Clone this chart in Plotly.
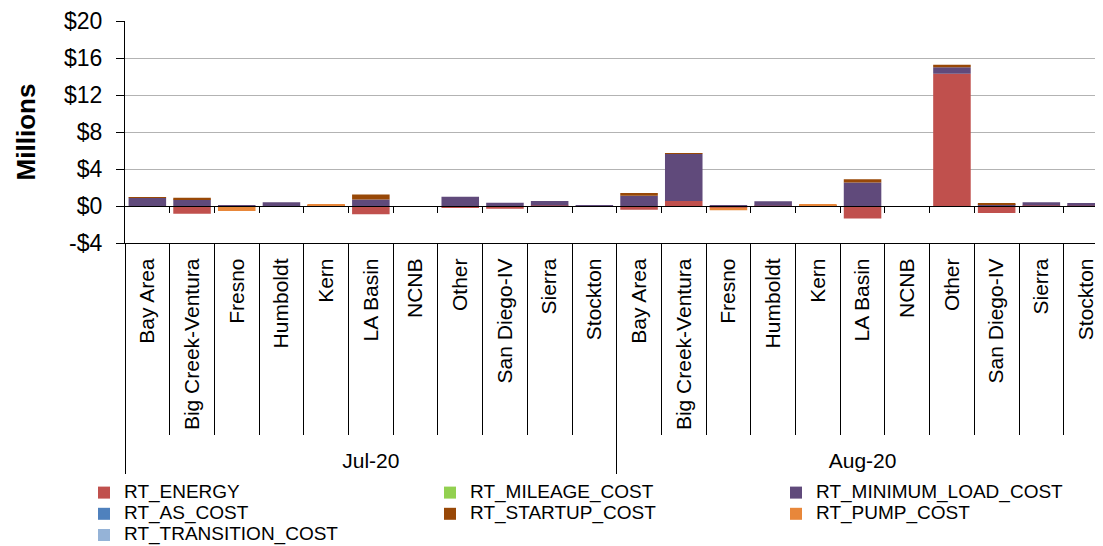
import plotly.graph_objects as go
import numpy as np

months = ["Jul-20", "Aug-20"]
regions = ["Bay Area", "Big Creek-Ventura", "Fresno", "Humboldt", "Kern", "LA Basin",
           "NCNB", "Other", "San Diego-IV", "Sierra", "Stockton"]

# values in $ millions, Jul-20 regions followed by Aug-20 regions
rt_energy = [-0.05, -0.85, -0.05, 0.0, 0.0, -0.9, 0.0, -0.15, -0.3, 0.05, 0.0,
             -0.4, 0.55, -0.2, 0.02, 0.0, -1.35, 0.0, 14.3, -0.75, 0.05, 0.02]
rt_mileage_cost = [0.0] * 22
rt_minimum_load_cost = [0.9, 0.7, 0.08, 0.4, 0.0, 0.7, 0.0, 1.0, 0.35, 0.5, 0.05,
                        1.1, 5.1, 0.05, 0.5, 0.0, 2.55, 0.0, 0.7, 0.2, 0.35, 0.3]
rt_as_cost = [0.0] * 22
rt_startup_cost = [0.05, 0.2, 0.0, 0.0, 0.08, 0.55, 0.0, 0.0, 0.0, 0.0, 0.0,
                   0.3, 0.05, 0.0, 0.0, 0.08, 0.35, 0.0, 0.28, 0.05, 0.0, 0.0]
rt_pump_cost = [0.0, 0.0, -0.5, 0.0, 0.04, 0.0, 0.0, 0.0, 0.0, 0.0, 0.0,
                0.0, 0.0, -0.25, 0.0, 0.04, 0.0, 0.0, 0.0, 0.0, 0.0, 0.0]
rt_transition_cost = [0.0] * 22

y_tickvals = [-4, 0, 4, 8, 12, 16, 20]
y_ticktext = ["-$4", "$0", "$4", "$8", "$12", "$16", "$20"]

series = [
    ("RT_ENERGY", rt_energy, "#C0504D"),
    ("RT_MILEAGE_COST", rt_mileage_cost, "#92D050"),
    ("RT_MINIMUM_LOAD_COST", rt_minimum_load_cost, "#604A7B"),
    ("RT_AS_COST", rt_as_cost, "#4F81BD"),
    ("RT_STARTUP_COST", rt_startup_cost, "#984807"),
    ("RT_PUMP_COST", rt_pump_cost, "#E8873A"),
    ("RT_TRANSITION_COST", rt_transition_cost, "#95B3D7"),
]

n_reg = len(regions)
n = n_reg * len(months)
xpos = np.arange(n)
inner_labels = regions * len(months)
inner_bounds = [i + 0.5 for i in range(n - 1) if (i + 1) % n_reg != 0]
outer_bounds = [-0.5] + [m * n_reg - 0.5 for m in range(1, len(months) + 1)]
month_centers = [m * n_reg + (n_reg - 1) / 2 for m in range(len(months))]

FONT = "Liberation Sans, Arial, sans-serif"
OFF = 8  # page body margin
W, H = 1103 - OFF, 546 - OFF
ML, MT = 125 - OFF, 21 - OFF
plot_h = 222
MB = H - MT - plot_h
plot_w = W - ML
xr = [-0.5, -0.5 + plot_w / 44.7]

fig = go.Figure()
for name, vals, col in series:
    fig.add_trace(go.Bar(x=xpos, y=vals, name=f'<span style="font-size:19px">{name}</span>',
                         marker_color=col, marker_line_width=0, xaxis="x", yaxis="y"))

# helper traces (no marks) so the overlay axes used for dividers / group labels are drawn
for ax in ["x2", "x3", "x4", "x5"]:
    fig.add_trace(go.Scatter(x=[None], y=[None], xaxis=ax, yaxis="y", showlegend=False,
                             hoverinfo="skip", mode="markers"))

common = dict(range=xr, showgrid=False, zeroline=False, fixedrange=True, automargin=False)
fig.update_layout(
    width=W, height=H, autosize=False,
    margin=dict(l=ML, r=0, t=MT, b=MB, pad=0, autoexpand=False),
    paper_bgcolor="white", plot_bgcolor="white",
    barmode="relative", bargap=0.16,
    font=dict(family=FONT, color="black"),
    xaxis=dict(**common, tickmode="array", tickvals=list(xpos), ticktext=inner_labels,
               tickangle=-90, ticks="", tickfont=dict(size=21, family=FONT),
               ticklabelstandoff=6, showline=True, linecolor="black", linewidth=1.2),
    xaxis2=dict(**common, overlaying="x", anchor="y", side="bottom", tickmode="array",
                tickvals=inner_bounds, ticks="outside", ticklen=191, tickcolor="black",
                tickwidth=1, showticklabels=False, showline=False),
    xaxis3=dict(**common, overlaying="x", anchor="y", side="bottom", tickmode="array",
                tickvals=outer_bounds, ticks="outside", ticklen=230, tickcolor="black",
                tickwidth=1, showticklabels=False, showline=False),
    xaxis4=dict(**common, overlaying="x", anchor="y", side="bottom", tickmode="array",
                tickvals=month_centers, ticktext=months, ticks="outside", ticklen=199,
                tickcolor="rgba(0,0,0,0)", tickfont=dict(size=21, family=FONT),
                showline=False),
    xaxis5=dict(**common, overlaying="x", anchor="free", position=4 / 24, side="bottom",
                tickmode="array", tickvals=inner_bounds + outer_bounds[1:-1],
                ticks="outside", ticklen=6, tickcolor="black", tickwidth=1.2,
                showticklabels=False, showline=True, linecolor="black", linewidth=1.2),
    yaxis=dict(range=[-4, 20], tickmode="array", tickvals=y_tickvals, ticktext=y_ticktext,
               showgrid=True, gridcolor="#B3B3B3", gridwidth=1.3, zeroline=False,
               showline=True, linecolor="black", linewidth=1.2,
               ticks="outside", ticklen=8, tickcolor="black", tickwidth=1.2,
               ticklabelstandoff=9, tickfont=dict(size=23, family=FONT),
               title=dict(text="<b>Millions</b>", font=dict(size=26, family=FONT),
                          standoff=20),
               automargin=False, fixedrange=True),
    legend=dict(orientation="h", xref="paper", yref="paper",
                x=-41 / plot_w, y=-234 / plot_h,
                xanchor="left", yanchor="top",
                entrywidth=301, entrywidthmode="pixels",
                font=dict(size=14, family=FONT), traceorder="normal",
                itemclick=False, itemdoubleclick=False, tracegroupgap=0),
    showlegend=True,
)

fig.write_html("out.html")
